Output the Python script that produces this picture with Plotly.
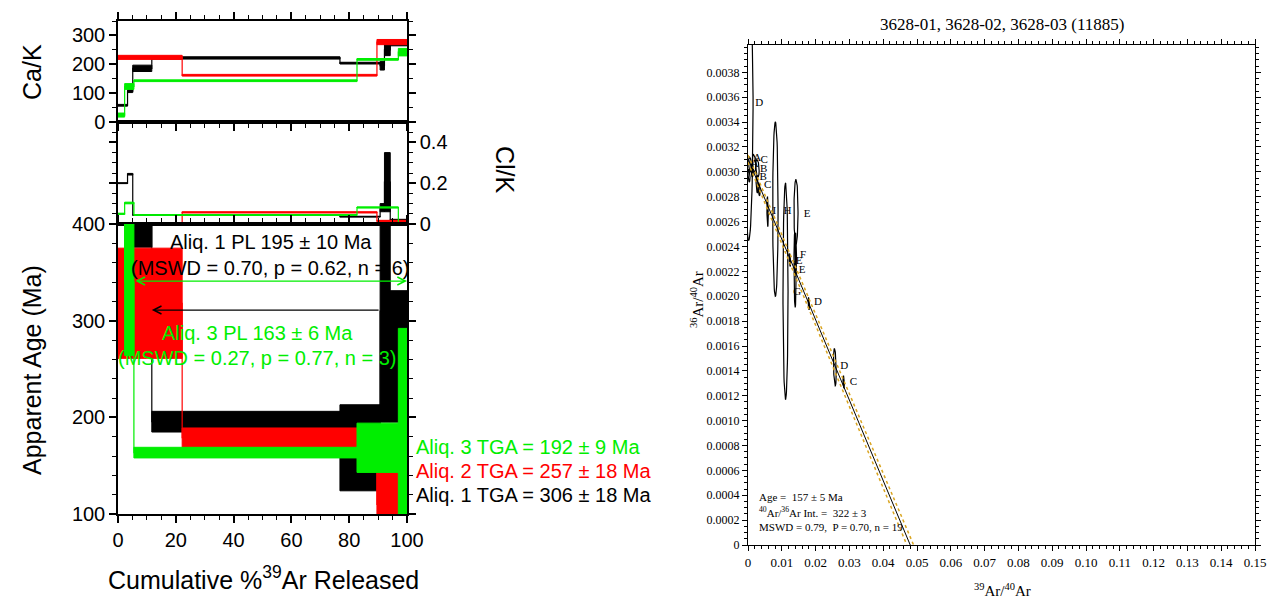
import numpy as np
import plotly.graph_objects as go

W, H = 1268, 600

# ---------------- step-heating data (cumulative %39Ar edges) ----------------
# Aliquot 1 (black)
a1_edges = [0, 3.3, 5.1, 11.7, 76.8, 90.7, 92.2, 94.2, 100]
a1_age = [600, 560, 400, 195.5, 168.5, 310, 310, 263]
a1_age_err = [20, 20, 24, 10.7, 44.5, 115, 115, 68]
a1_cak = [58, 107, 186, 222, 204, 195, 250, 268]
a1_cak_err = [3, 5, 11, 4, 3, 15, 20, 4]
a1_clk = [0.20, 0.244, 0.044, 0.044, 0.036, 0.08, 0.205, 0.02]
a1_clk_err = [0.002, 0.004, 0.002, 0.002, 0.002, 0.02, 0.145, 0.003]

# Aliquot 2 (red)
a2_edges = [0, 22.2, 89.6, 100]
a2_age = [318, 179, 110]
a2_age_err = [57, 10, 33]
a2_cak = [224, 162, 277]
a2_cak_err = [7, 3, 9]
a2_clk = [0.002, 0.057, 0.015]
a2_clk_err = [0.002, 0.003, 0.003]

# Aliquot 3 (green)
a3_edges = [0, 2.3, 5.5, 82.7, 97.0, 100]
a3_age = [600, 340, 163.5, 168.5, 192]
a3_age_err = [30, 76, 5.5, 25.5, 100]
a3_cak = [24, 123, 143, 217, 242]
a3_cak_err = [7, 10, 3, 3, 13]
a3_clk = [0.05, 0.103, 0.044, 0.081, 0.003]
a3_clk_err = [0.003, 0.004, 0.002, 0.003, 0.003]

# plateau arrows (start %, end %, age level)
pl1_range = [11.7, 90.7]
pl1_level = 311
pl3_range = [5.5, 100]
pl3_level = 341

# ---------------- isochron data ----------------
iso_x = [0.0002, 0.0006, 0.0018, 0.0028, 0.0012, 0.0003, 0.0027, 0.0033, 0.0058,
         0.0081, 0.0111, 0.0142, 0.0139, 0.0141, 0.0124, 0.0140, 0.0180, 0.0257, 0.0283]
iso_y = [0.00360, 0.00306, 0.00307, 0.00303, 0.00301, 0.00297, 0.00290, 0.00286, 0.00268,
         0.00270, 0.00204, 0.00268, 0.00221, 0.00236, 0.00229, 0.00222, 0.00194, 0.00143, 0.00131]
iso_sx = [0.0013, 0.0004, 0.0005, 0.0005, 0.0003, 0.0003, 0.0003, 0.0003, 0.0002,
          0.0008, 0.00075, 0.0006, 0.0003, 0.00025, 0.0002, 0.0002, 0.0002, 0.0004, 0.0002]
iso_sy = [0.00115, 0.00006, 0.00007, 0.00007, 0.00005, 0.00005, 0.00007, 0.00005, 0.00012,
          0.0007, 0.00087, 0.00026, 0.0003, 0.00015, 0.00005, 0.00006, 0.00005, 0.00015, 0.00005]
iso_rho = [0.0, -0.3, -0.3, -0.3, -0.3, -0.3, -0.3, -0.3, -0.2,
           0.0, 0.0, 0.0, -0.2, -0.2, -0.3, -0.3, -0.3, -0.3, -0.3]
iso_lbl = ["D", "A", "C", "B", "A", "", "B", "C", "I",
           "", "H", "E", "G", "F", "E", "E", "D", "D", "C"]
iso_lbl_x = [0.0033, 0.0027, 0.0048, 0.0046, 0.0020, 0, 0.0045, 0.0058, 0.0078,
             0, 0.0117, 0.0175, 0.0146, 0.0163, 0.0151, 0.0160, 0.0207, 0.0285, 0.0312]
iso_lbl_y = [0.00355, 0.00311, 0.00309, 0.00302, 0.00306, 0, 0.00296, 0.00289, 0.00268,
             0, 0.00268, 0.00266, 0.00203, 0.00233, 0.00228, 0.00221, 0.00195, 0.00144, 0.00131]
iso_int_y = 1 / 322.0
iso_int_y_hi = 1 / 319.0
iso_int_y_lo = 1 / 325.0
iso_int_x = 0.0480
iso_int_x_hi = 0.0490
iso_int_x_lo = 0.0470

iso_xticks = [0, 0.01, 0.02, 0.03, 0.04, 0.05, 0.06, 0.07, 0.08, 0.09, 0.10, 0.11, 0.12, 0.13, 0.14, 0.15]
iso_xtext = ["0", "0.01", "0.02", "0.03", "0.04", "0.05", "0.06", "0.07", "0.08", "0.09",
             "0.10", "0.11", "0.12", "0.13", "0.14", "0.15"]
iso_yticks = [0, 0.0002, 0.0004, 0.0006, 0.0008, 0.0010, 0.0012, 0.0014, 0.0016, 0.0018, 0.0020,
              0.0022, 0.0024, 0.0026, 0.0028, 0.0030, 0.0032, 0.0034, 0.0036, 0.0038]
iso_ytext = ["0", "0.0002", "0.0004", "0.0006", "0.0008", "0.0010", "0.0012", "0.0014", "0.0016",
             "0.0018", "0.0020", "0.0022", "0.0024", "0.0026", "0.0028", "0.0030", "0.0032",
             "0.0034", "0.0036", "0.0038"]

BLACK, RED, GREEN, GOLD = "#000000", "#ff0000", "#00ee00", "#DAA520"
SANS = "Liberation Sans, Arial, sans-serif"
SERIF = "Liberation Serif, Times New Roman, serif"


def boxes(edges, vals, errs):
    xs, ys = [], []
    for i in range(len(vals)):
        x0, x1 = edges[i], edges[i + 1]
        lo, hi = vals[i] - errs[i], vals[i] + errs[i]
        xs += [x0, x1, x1, x0, x0, None]
        ys += [lo, lo, hi, hi, lo, None]
    return xs, ys


fig = go.Figure()

aliquots = [
    (BLACK, a1_edges, a1_age, a1_age_err, a1_cak, a1_cak_err, a1_clk, a1_clk_err),
    (RED, a2_edges, a2_age, a2_age_err, a2_cak, a2_cak_err, a2_clk, a2_clk_err),
    (GREEN, a3_edges, a3_age, a3_age_err, a3_cak, a3_cak_err, a3_clk, a3_clk_err),
]

for color, edges, age, age_e, cak, cak_e, clk, clk_e in aliquots:
    for (vals, errs, xa, ya) in [(cak, cak_e, "x", "y"), (clk, clk_e, "x2", "y2"), (age, age_e, "x3", "y3")]:
        fig.add_trace(go.Scatter(x=edges, y=list(vals) + [vals[-1]], mode="lines",
                                 line=dict(color=color, width=1.2, shape="hv"),
                                 xaxis=xa, yaxis=ya, showlegend=False, hoverinfo="skip"))
        bx, by = boxes(edges, vals, errs)
        fig.add_trace(go.Scatter(x=bx, y=by, mode="lines", fill="toself", fillcolor=color,
                                 line=dict(color=color, width=1),
                                 xaxis=xa, yaxis=ya, showlegend=False, hoverinfo="skip"))

# ---------------- isochron ----------------
t = np.linspace(0, 2 * np.pi, 80)
ex, ey = [], []
for cx, cy, sx, sy, r in zip(iso_x, iso_y, iso_sx, iso_sy, iso_rho):
    ex += list(cx + sx * np.cos(t)) + [None]
    ey += list(cy + sy * (r * np.cos(t) + np.sqrt(1 - r * r) * np.sin(t))) + [None]
fig.add_trace(go.Scatter(x=ex, y=ey, mode="lines", line=dict(color=BLACK, width=1.2),
                         xaxis="x4", yaxis="y4", showlegend=False, hoverinfo="skip"))

fig.add_trace(go.Scatter(x=[0, iso_int_x_hi], y=[iso_int_y_hi, 0], mode="lines",
                         line=dict(color=GOLD, width=1.5, dash="dot"),
                         xaxis="x4", yaxis="y4", showlegend=False, hoverinfo="skip"))
fig.add_trace(go.Scatter(x=[0, iso_int_x_lo], y=[iso_int_y_lo, 0], mode="lines",
                         line=dict(color=GOLD, width=1.5, dash="dot"),
                         xaxis="x4", yaxis="y4", showlegend=False, hoverinfo="skip"))
fig.add_trace(go.Scatter(x=[0, iso_int_x], y=[iso_int_y, 0], mode="lines",
                         line=dict(color=BLACK, width=1),
                         xaxis="x4", yaxis="y4", showlegend=False, hoverinfo="skip"))

lx = [x for x, l in zip(iso_lbl_x, iso_lbl) if l]
ly = [y for y, l in zip(iso_lbl_y, iso_lbl) if l]
lt = [l for l in iso_lbl if l]
fig.add_trace(go.Scatter(x=lx, y=ly, mode="text", text=lt, textposition="middle center",
                         textfont=dict(family=SERIF, size=11, color="black"),
                         xaxis="x4", yaxis="y4", showlegend=False, hoverinfo="skip"))

# ---------------- axes ----------------
common = dict(showline=True, linecolor="black", linewidth=1.5, showgrid=False, zeroline=False,
              automargin=False, ticks="outside", tickwidth=1.5, ticklen=7, tickcolor="black",
              tickfont=dict(family=SANS, size=20, color="black"))
iso_common = dict(showline=True, linecolor="black", linewidth=1.2, showgrid=False, zeroline=False,
                  automargin=False, ticks="outside", ticklen=5, tickwidth=1, tickcolor="black",
                  mirror="allticks", tickmode="array")
xdomL = [118 / W, 407 / W]

fig.update_layout(
    width=W, height=H, margin=dict(l=0, r=0, t=0, b=0, autoexpand=False),
    plot_bgcolor="white", paper_bgcolor="white",
    xaxis=dict(domain=xdomL, range=[0, 100], anchor="y", mirror="allticks", showticklabels=False,
               dtick=20, minor=dict(dtick=5, ticklen=4, tickwidth=1, ticks="outside"), **common),
    yaxis=dict(domain=[1 - 122 / H, 1 - 21 / H], range=[0, 350], anchor="x", mirror="allticks",
               dtick=100, minor=dict(dtick=50, ticklen=4, tickwidth=1, ticks="outside"), **common),
    xaxis2=dict(domain=xdomL, range=[0, 100], anchor="y2", mirror=True, showticklabels=False,
                **{**common, "ticks": ""}),
    yaxis2=dict(domain=[1 - 224 / H, 1 - 122 / H], range=[0, 0.5], anchor="x2", side="right",
                mirror="allticks", tickvals=[0, 0.2, 0.4], ticktext=["0", "0.2", "0.4"],
                minor=dict(dtick=0.05, ticklen=4, tickwidth=1, ticks="outside"), **common),
    xaxis3=dict(domain=xdomL, range=[0, 100], anchor="y3", mirror="allticks",
                dtick=20, minor=dict(dtick=5, ticklen=4, tickwidth=1, ticks="outside"), **common),
    yaxis3=dict(domain=[1 - 514 / H, 1 - 224 / H], range=[100, 400], anchor="x3", mirror="allticks",
                dtick=100, minor=dict(dtick=20, ticklen=4, tickwidth=1, ticks="outside"), **common),
    xaxis4=dict(domain=[748 / W, 1255 / W], range=[0, 0.15], anchor="y4",
                tickvals=iso_xticks, ticktext=iso_xtext,
                tickfont=dict(family=SERIF, size=13, color="black"),
                minor=dict(dtick=0.002, tick0=0, ticklen=3, tickwidth=1, ticks="outside"), **iso_common),
    yaxis4=dict(domain=[1 - 545 / H, 1 - 45 / H], range=[0, 0.00402], anchor="x4",
                tickvals=iso_yticks, ticktext=iso_ytext,
                tickfont=dict(family=SERIF, size=12, color="black"),
                minor=dict(dtick=0.00005, tick0=0, ticklen=3, tickwidth=1, ticks="outside"), **iso_common),
)

# arrows
fig.add_annotation(x=pl1_range[0], y=pl1_level, ax=pl1_range[1], ay=pl1_level,
                   xref="x3", yref="y3", axref="x3", ayref="y3", text="", showarrow=True,
                   arrowhead=5, arrowsize=1.3, arrowwidth=1.2, arrowcolor=BLACK, standoff=0)
fig.add_annotation(x=pl3_range[1], y=pl3_level, ax=pl3_range[0], ay=pl3_level,
                   xref="x3", yref="y3", axref="x3", ayref="y3", text="", showarrow=True,
                   arrowhead=5, startarrowhead=5, arrowside="end+start", arrowsize=1.3,
                   startarrowsize=1.3, arrowwidth=1.2, arrowcolor=GREEN, standoff=0, startstandoff=0)


def ptxt(text, px, py, size, color="black", family=SANS, xanchor="center", angle=0):
    fig.add_annotation(x=px / W, y=1 - py / H, xref="paper", yref="paper", text=text,
                       showarrow=False, xanchor=xanchor, yanchor="middle", textangle=angle,
                       font=dict(family=family, size=size, color=color))


ptxt("Aliq. 1 PL 195 ± 10 Ma", 271, 242, 20)
ptxt("(MSWD = 0.70, p = 0.62, n = 6)", 270, 268, 20)
ptxt("Aliq. 3 PL 163 ± 6 Ma", 257, 333, 20, GREEN)
ptxt("(MSWD = 0.27, p = 0.77, n = 3)", 257, 358, 20, GREEN)
ptxt("Aliq. 3 TGA = 192 ± 9 Ma", 414, 447, 20, GREEN, xanchor="left")
ptxt("Aliq. 2 TGA = 257 ± 18 Ma", 414, 471, 20, RED, xanchor="left")
ptxt("Aliq. 1 TGA = 306 ± 18 Ma", 414, 495, 20, BLACK, xanchor="left")
ptxt("Cumulative %<sup>39</sup>Ar Released", 263, 578, 25)
ptxt("Ca/K", 32, 72, 25, angle=-90)
ptxt("Apparent Age (Ma)", 32, 370, 25, angle=-90)
ptxt("Cl/K", 505, 170, 25, angle=90)

ptxt("3628-01, 3628-02, 3628-03 (11885)", 1002, 25, 17, family=SERIF)
ptxt("<sup>36</sup>Ar/<sup>40</sup>Ar", 697, 300, 15, family=SERIF, angle=-90)
ptxt("<sup>39</sup>Ar/<sup>40</sup>Ar", 1002, 590, 15, family=SERIF)
ptxt("Age =  157 ± 5 Ma", 757, 497, 11, family=SERIF, xanchor="left")
ptxt("<sup>40</sup>Ar/<sup>36</sup>Ar Int. =  322 ± 3", 757, 512, 11, family=SERIF, xanchor="left")
ptxt("MSWD = 0.79,  P = 0.70, n = 19", 757, 527, 11, family=SERIF, xanchor="left")

fig.write_html("out.html", config={"displayModeBar": False},
               post_script="document.body.style.margin='0';")
